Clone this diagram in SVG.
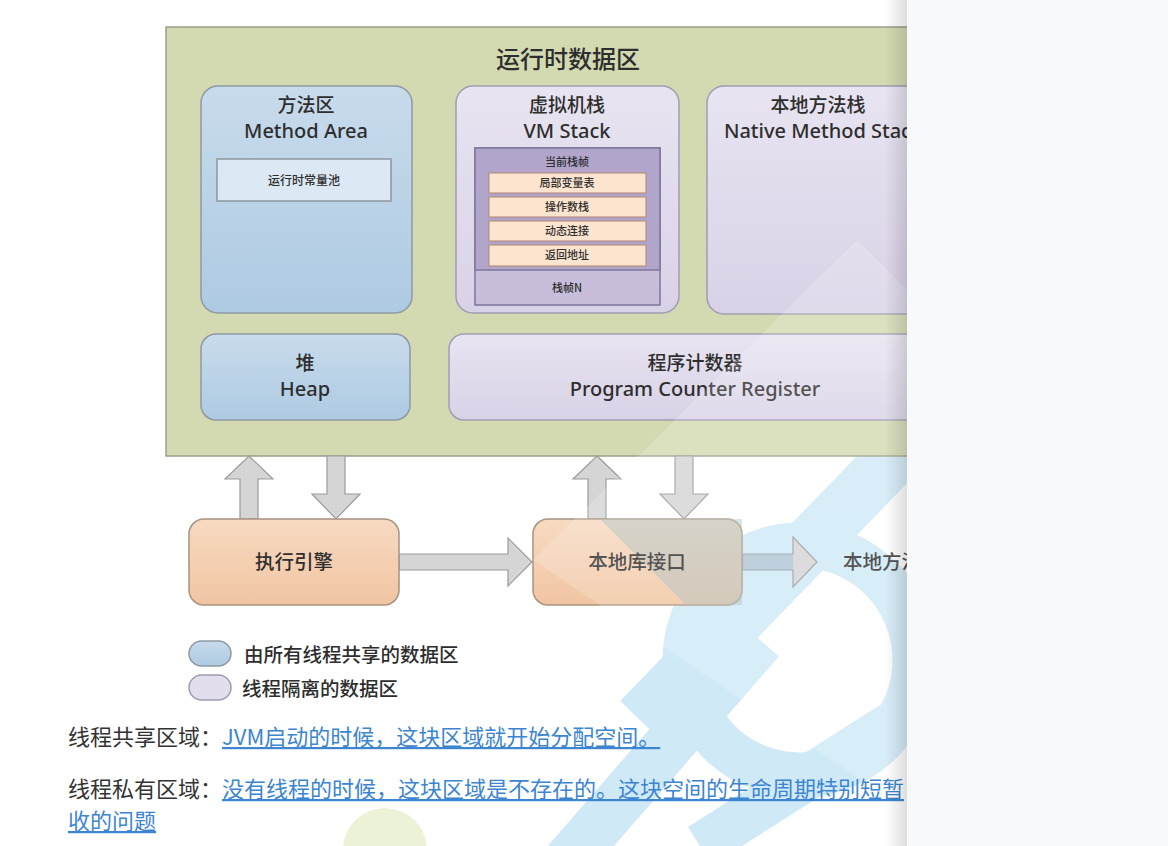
<svg xmlns="http://www.w3.org/2000/svg" width="1168" height="846" viewBox="0 0 1168 846">
<defs>
<linearGradient id="gBlue" x1="0" y1="0" x2="0" y2="1"><stop offset="0" stop-color="#c8dbec"/><stop offset="1" stop-color="#aecae2"/></linearGradient>
<linearGradient id="gLav" x1="0" y1="0" x2="0" y2="1"><stop offset="0" stop-color="#e8e4f1"/><stop offset="1" stop-color="#d9d2e7"/></linearGradient>
<linearGradient id="gOr" x1="0" y1="0" x2="0" y2="1"><stop offset="0" stop-color="#f7dac2"/><stop offset="1" stop-color="#f1c5a2"/></linearGradient>
<linearGradient id="gShadow" x1="0" y1="0" x2="1" y2="0"><stop offset="0" stop-color="#000" stop-opacity="0"/><stop offset="1" stop-color="#000" stop-opacity="0.13"/></linearGradient>
<clipPath id="clipD"><rect x="0" y="0" width="907" height="846"/></clipPath>
<style>
.cn{font-family:"Noto Sans CJK SC","Noto Sans",sans-serif;fill:#2e2e2e;font-weight:500}
.en{font-family:"Noto Sans","Open Sans","Noto Sans CJK SC",sans-serif;fill:#2e2e2e;font-weight:500}
.c{text-anchor:middle}
.box{stroke:#8f99a3;stroke-width:1.5}
.lav{fill:url(#gLav);stroke:#a29cb2;stroke-width:1.5}
.or{fill:url(#gOr);stroke:#a8937f;stroke-width:1.5}
.small{fill:#fce4cf;stroke:#b08a6c;stroke-width:1}
.arr{fill:#d5d5d5;stroke:#9b9b9b;stroke-width:1.2}
.page{font-family:"Noto Sans CJK SC","Noto Sans",sans-serif;font-size:22px}
.link{fill:#3d85d0;text-decoration:underline}
</style>
</defs>
<rect x="0" y="0" width="1168" height="846" fill="#ffffff"/>
<g clip-path="url(#clipD)">
<g id="watermark" opacity="0.55" fill="none" stroke="#a9d8f1">
<path d="M 930 420 L 640 720" stroke-width="55"/>
<circle cx="800" cy="660" r="115" stroke-width="45"/>
<path d="M 560 870 L 760 640" stroke-width="50"/>
<path d="M 930 700 L 700 846" stroke-width="45"/>
</g>
<circle cx="385" cy="850" r="42" fill="#e3edc3" opacity="0.7"/>

<g id="runtime-area">
<rect x="166" y="27" width="760" height="429" fill="#d3dab1" stroke="#9aa08a" stroke-width="1.5"/>
<text class="cn c" x="568" y="68" font-size="24">运行时数据区</text>
</g>

<g id="method-area">
<rect class="box" x="201" y="86" width="211" height="227" rx="17" fill="url(#gBlue)"/>
<text class="cn c" x="306" y="112" font-size="19">方法区</text>
<text class="en c" x="306" y="138" font-size="20">Method Area</text>
<rect x="217" y="159" width="174" height="42" fill="#dce8f3" stroke="#8c96a0" stroke-width="1.5"/>
<text class="cn c" x="304" y="185" font-size="12">运行时常量池</text>
</g>

<g id="vm-stack">
<rect class="lav" x="456" y="86" width="223" height="227" rx="17"/>
<text class="cn c" x="567" y="112" font-size="19">虚拟机栈</text>
<text class="en c" x="567" y="138" font-size="20">VM Stack</text>
<rect x="475" y="148" width="185" height="157" fill="#c8bedb" stroke="#7f7598" stroke-width="1.5"/>
<rect x="475" y="148" width="185" height="122" fill="#b2a5cc" stroke="#7f7598" stroke-width="1.5"/>
<text class="cn c" x="567" y="166" font-size="11">当前栈帧</text>
<rect class="small" x="489" y="173" width="157" height="20"/>
<text class="cn c" x="567" y="187" font-size="11">局部变量表</text>
<rect class="small" x="489" y="197" width="157" height="20"/>
<text class="cn c" x="567" y="211" font-size="11">操作数栈</text>
<rect class="small" x="489" y="221" width="157" height="20"/>
<text class="cn c" x="567" y="235" font-size="11">动态连接</text>
<rect class="small" x="489" y="245" width="157" height="21"/>
<text class="cn c" x="567" y="259" font-size="11">返回地址</text>
<text class="cn c" x="567" y="292" font-size="11">栈帧N</text>
</g>

<g id="native-stack">
<rect class="lav" x="707" y="86" width="223" height="228" rx="17"/>
<text class="cn c" x="818" y="112" font-size="19">本地方法栈</text>
<text class="en c" x="823" y="138" font-size="20">Native Method Stack</text>
</g>

<g id="heap">
<rect class="box" x="201" y="334" width="209" height="86" rx="15" fill="url(#gBlue)"/>
<text class="cn c" x="305" y="370" font-size="19">堆</text>
<text class="en c" x="305" y="396" font-size="20">Heap</text>
</g>

<g id="pc-register">
<rect class="lav" x="449" y="334" width="480" height="86" rx="15"/>
<text class="cn c" x="695" y="370" font-size="19">程序计数器</text>
<text class="en c" x="695" y="396" font-size="20">Program Counter Register</text>
</g>

<g id="connectors">
<polygon class="arr" points="249,456 273,479 258,479 258,519 240,519 240,479 225,479"/>
<polygon class="arr" points="327,456 345,456 345,494 360,494 336,519 312,494 327,494"/>
<polygon class="arr" points="597,456 621,479 606,479 606,519 588,519 588,479 573,479"/>
<polygon class="arr" points="675,456 693,456 693,494 708,494 684,519 660,494 675,494"/>
<polygon class="arr" points="399,554 508,554 508,538 532,562 508,586 508,570 399,570"/>
<polygon class="arr" points="742,554 793,554 793,537 817,562 793,587 793,570 742,570"/>
<rect x="742" y="554" width="51" height="16" fill="#7fb2cf" opacity="0.45"/>
</g>

<g id="exec-engine">
<rect class="or" x="189" y="519" width="210" height="86" rx="15"/>
<text class="cn c" x="294" y="569" font-size="19.5" font-weight="bold">执行引擎</text>
</g>

<g id="native-interface">
<rect class="or" x="533" y="519" width="209" height="86" rx="15"/>
<path d="M 600 519 L 742 519 L 742 605 L 686 605 Z" fill="#9cb6b8" opacity="0.45"/>
<text class="cn c" x="637" y="569" font-size="19.5">本地库接口</text>
</g>

<g id="native-lib">
<text class="cn" x="843" y="569" font-size="19.5">本地方法库</text>
</g>

<polygon points="857,240 960,343 960,846 533,560" fill="#ffffff" opacity="0.18"/>

<g id="legend">
<rect x="189" y="641" width="42" height="25" rx="12.5" fill="url(#gBlue)" stroke="#8f99a3" stroke-width="1.5"/>
<text class="cn" x="244" y="662" font-size="19.5">由所有线程共享的数据区</text>
<rect x="189" y="675" width="42" height="25" rx="12.5" fill="#e3deee" stroke="#a29cb2" stroke-width="1.5"/>
<text class="cn" x="242" y="696" font-size="19.5">线程隔离的数据区</text>
</g>

<g id="page-text">
<text class="page" x="68" y="745" fill="#333">线程共享区域：</text>
<text class="page link" x="222" y="745">JVM启动的时候，这块区域就开始分配空间。</text>
<text class="page" x="68" y="797" fill="#333">线程私有区域：</text>
<text class="page link" x="222" y="797">没有线程的时候，这块区域是不存在的。这块空间的生命周期特别短暂</text>
<text class="page link" x="68" y="829">收的问题</text>
</g>
<rect x="885" y="0" width="22" height="846" fill="url(#gShadow)"/>
</g>
<rect id="side-panel" x="907" y="0" width="261" height="846" fill="#f8f9fa"/>
</svg>
